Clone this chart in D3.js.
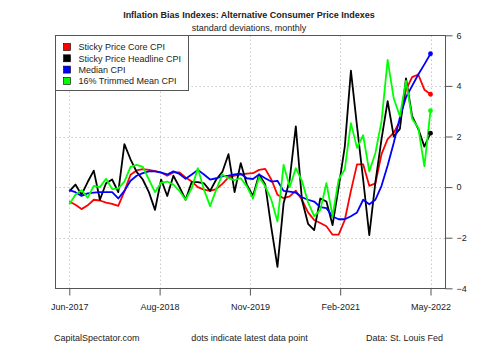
<!DOCTYPE html>
<html>
<head>
<meta charset="utf-8">
<script src="https://cdn.jsdelivr.net/npm/d3@7"></script>
<style>
  body { margin: 0; background: #fff; }
  svg { display: block; font-family: "Liberation Sans", Arial, sans-serif; }
</style>
</head>
<body>
<svg id="chart" width="500" height="346"></svg>
<script>
// monthly readings, Jun-2017 .. May-2022 (standard deviations)
var months = d3.timeMonth.range(new Date(2017, 5, 1), new Date(2022, 5, 1));

var stickyCore = [
  -0.57, -0.7, -0.87, -0.72, -0.5, -0.53, -0.61, -0.66, -0.74, -0.17,
  0.49, 0.66, 0.71, 0.68, 0.63, 0.58, 0.45, 0.58, 0.58, 0.38,
  0.22, 0.0, -0.1, -0.15, -0.08, 0.13, 0.38, 0.45, 0.49, 0.53,
  0.55, 0.68, 0.72, 0.3, -0.3, -0.44, -0.37, -0.14, -0.5, -1.0,
  -1.3, -1.42, -1.55, -1.88, -1.88, -1.3, -0.15, 0.9, 0.9, 0.05,
  0.15, 1.3, 1.9, 2.15, 2.6, 3.85, 4.35, 4.45, 3.85, 3.67
];
var stickyHeadline = [
  -0.17, 0.1, -0.3, 0.2, 0.65, -0.5, 0.15, 0.3, -0.2, 1.7,
  1.1, 0.6, 0.3, -0.2, -0.9, 0.3, -0.35, 0.45, 0.0, -0.5,
  0.2, 0.2, 0.15, -0.15, 0.3, 0.6, 1.3, -0.2, 0.95, 0.1,
  -0.35, 0.5, 0.1, -1.6, -3.15, -0.65, 0.3, 2.4, -0.5, -1.45,
  -1.7, -0.45, -0.57, -1.5, 0.0, 1.6, 4.6, 2.4, 0.3, -1.9,
  0.2, 1.9, 3.4, 2.0, 2.3, 4.3, 2.8, 2.3, 1.6, 2.13
];
var median = [
  -0.12, -0.2, -0.35, -0.25, -0.22, -0.2, -0.2, -0.2, -0.45, -0.15,
  0.25, 0.45, 0.55, 0.62, 0.62, 0.57, 0.5, 0.62, 0.52, 0.33,
  0.5, 0.68, 0.5, 0.3, 0.35, 0.42, 0.45, 0.5, 0.53, 0.35,
  0.32, 0.5, 0.35, 0.22, 0.25, -0.15, -0.18, -0.22, -0.4, -0.5,
  -0.57, -0.79, -0.83, -1.16, -1.27, -1.27, -1.15, -1.0, -0.5, -0.68,
  -0.5, 0.05, 0.85, 1.75, 2.75, 3.55, 4.0, 4.45, 4.85, 5.27
];
var trimmedMean = [
  -0.68, -0.3, -0.12, -0.42, 0.05, 0.0, 0.33, -0.08, -0.05, 0.22,
  0.8, 0.88, 0.8, 0.3, -0.2, 0.18, 0.22, 0.1, -0.15, -0.5,
  -0.04, 0.75, -0.1, -0.75, -0.1, 0.5, 0.35, 0.28, 0.35, 0.03,
  -0.45, 0.4, 0.03, -0.5, -1.36, 0.88, 0.0, 0.75, 0.25, -0.6,
  -1.15, -0.9, 0.16, -1.15, 0.3, 0.7, 2.53, 1.55, 2.05, 0.62,
  1.35, 2.6, 5.03, 3.5, 2.8, 4.2, 2.7, 2.35, 0.82, 3.02
];

var seriesNames = ["Sticky Price Core CPI", "Sticky Price Headline CPI", "Median CPI", "16% Trimmed Mean CPI"];
var seriesColors = ["#ff0000", "#000000", "#0000ff", "#00ff00"];
var seriesValues = [stickyCore, stickyHeadline, median, trimmedMean];

var xTickLabels = ["Jun-2017", "Aug-2018", "Nov-2019", "Feb-2021", "May-2022"];
var yTicks = [-4, -2, 0, 2, 4, 6];

var svg = d3.select("#chart");
var n = months.length - 1;

// x runs on the observation index, padded 4% each side like base R plots
var x = d3.scaleLinear().domain([0, n]).range([69.3, 430.5]);
var y = d3.scaleLinear().domain([-4, 6]).range([288.3, 35.3]);
var boxL = Math.round(x(-0.04 * n)) + 0.5, boxR = Math.round(x(1.04 * n)) + 0.5;
var boxT = Math.round(y(6)) + 0.5, boxB = Math.round(y(-4)) + 0.5;

var xTickAt = d3.range(xTickLabels.length).map(function(k) { return k * n / (xTickLabels.length - 1); });

// grid
var grid = svg.append("g")
  .attr("stroke", "#c8c8c8")
  .attr("stroke-width", 1)
  .attr("stroke-dasharray", "1.5,2.5");
grid.selectAll(".gx").data(xTickAt).enter().append("line")
  .attr("x1", function(d) { return Math.round(x(d)) + 0.5; })
  .attr("x2", function(d) { return Math.round(x(d)) + 0.5; })
  .attr("y1", boxT).attr("y2", boxB);
grid.selectAll(".gy").data(yTicks.slice(1, -1)).enter().append("line")
  .attr("x1", boxL).attr("x2", boxR)
  .attr("y1", function(d) { return Math.round(y(d)) + 0.5; })
  .attr("y2", function(d) { return Math.round(y(d)) + 0.5; });

// series lines, drawn in legend order
var line = d3.line()
  .x(function(d, i) { return x(i); })
  .y(function(d) { return y(d); });

seriesValues.forEach(function(vals, k) {
  svg.append("path")
    .attr("d", line(vals))
    .attr("fill", "none")
    .attr("stroke", seriesColors[k])
    .attr("stroke-width", 1.8)
    .attr("stroke-linejoin", "round");
});
seriesValues.forEach(function(vals, k) {
  svg.append("circle")
    .attr("cx", x(n))
    .attr("cy", y(vals[n]))
    .attr("r", 2.4)
    .attr("fill", seriesColors[k]);
});

// box
svg.append("rect")
  .attr("x", boxL).attr("y", boxT)
  .attr("width", boxR - boxL).attr("height", boxB - boxT)
  .attr("fill", "none").attr("stroke", "#555").attr("stroke-width", 1);

// right axis
var yAxis = d3.axisRight(y).tickValues(yTicks).tickSize(7).tickPadding(4).tickFormat(d3.format("d"));
var ya = svg.append("g").attr("transform", "translate(" + boxR + ",0)").call(yAxis);
ya.select(".domain").remove();
ya.selectAll("line").attr("stroke", "#555");
ya.selectAll("text").attr("fill", "#222").style("font-size", "9px");

// bottom axis
var xAxis = d3.axisBottom(x).tickValues(xTickAt).tickSize(7).tickPadding(8)
  .tickFormat(function(d, i) { return xTickLabels[i]; });
var xa = svg.append("g").attr("transform", "translate(0," + boxB + ")").call(xAxis);
xa.select(".domain").remove();
xa.selectAll("line").attr("stroke", "#555");
xa.selectAll("text").attr("fill", "#222").style("font-size", "9px");

// legend
var lg = svg.append("g");
lg.append("rect")
  .attr("x", boxL).attr("y", boxT)
  .attr("width", 133).attr("height", 55)
  .attr("fill", "#fff").attr("stroke", "#555");
seriesNames.forEach(function(name, k) {
  var yy = 47 + k * 11.3;
  lg.append("rect")
    .attr("x", 63.5).attr("y", yy - 3.5)
    .attr("width", 7).attr("height", 7)
    .attr("fill", seriesColors[k]).attr("stroke", "#000").attr("stroke-width", 0.6);
  lg.append("text")
    .attr("x", 78.5).attr("y", yy + 3.3)
    .attr("fill", "#222").style("font-size", "9px")
    .text(name);
});

// titles and notes
svg.append("text").attr("x", 249).attr("y", 18).attr("text-anchor", "middle")
  .style("font-size", "9px").style("font-weight", "bold").attr("fill", "#222")
  .text("Inflation Bias Indexes: Alternative Consumer Price Indexes");
svg.append("text").attr("x", 249).attr("y", 31).attr("text-anchor", "middle")
  .style("font-size", "9px").attr("fill", "#222")
  .text("standard deviations, monthly");

svg.append("text").attr("x", 54).attr("y", 341)
  .style("font-size", "9px").attr("fill", "#222").text("CapitalSpectator.com");
svg.append("text").attr("x", 249.5).attr("y", 341).attr("text-anchor", "middle")
  .style("font-size", "9px").attr("fill", "#222").text("dots indicate latest data point");
svg.append("text").attr("x", 443).attr("y", 341).attr("text-anchor", "end")
  .style("font-size", "9px").attr("fill", "#222").text("Data: St. Louis Fed");
</script>
</body>
</html>
